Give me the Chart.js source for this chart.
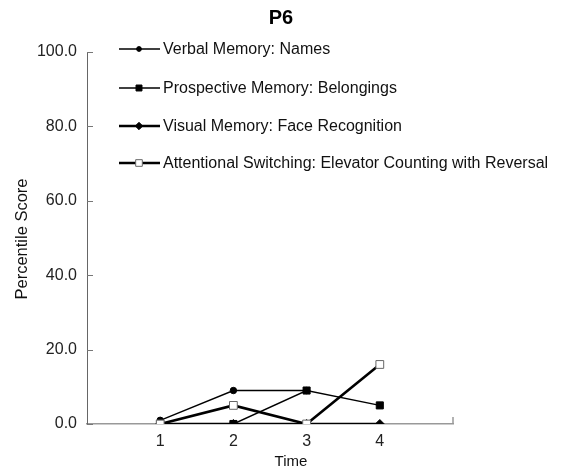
<!DOCTYPE html>
<html><head><meta charset="utf-8">
<script src="https://cdn.jsdelivr.net/npm/chart.js@4"></script>
<style>html,body{margin:0;padding:0;background:#fff}#wrap{width:562px;height:474px}</style>
</head><body><div id="wrap"><canvas id="c" width="562" height="474"></canvas></div>
<script>
const chartTitle = 'P6';
const xTitle = 'Time';
const yTitle = 'Percentile Score';
const times = [1, 2, 3, 4];
const xTickLabels = ['1', '2', '3', '4'];
const yTickValues = [0, 20, 40, 60, 80, 100];
const seriesNames = [
  'Verbal Memory: Names',
  'Prospective Memory: Belongings',
  'Visual Memory: Face Recognition',
  'Attentional Switching: Elevator Counting with Reversal'
];
const verbalNames = [1, 9, 9, null];
const prospectiveBelongings = [0, 0, 9, 5];
const visualFaces = [0, 0, 0, 0];
const attentionalSwitching = [0, 5, 0, 16];

const FONT = '"Liberation Sans", Arial, sans-serif';
const styles = [
  {pointStyle:'circle', radius:3.2, width:1.4, fill:'#000', stroke:'#000'},
  {pointStyle:'rect', radius:5, width:1.4, fill:'#000', stroke:'#000'},
  {pointStyle:'rectRot', radius:4.5, width:2.6, fill:'#000', stroke:'#000'},
  {pointStyle:'rect', radius:5.5, width:2.6, fill:'#fff', stroke:'#666'}
];
const seriesData = [verbalNames, prospectiveBelongings, visualFaces, attentionalSwitching];

const datasets = seriesData.map((arr, i) => ({
  label: seriesNames[i],
  data: times.map((t, k) => ({x: t, y: arr[k]})),
  borderColor: '#000',
  borderWidth: styles[i].width,
  pointStyle: styles[i].pointStyle,
  pointRadius: styles[i].radius,
  pointBackgroundColor: styles[i].fill,
  pointBorderColor: styles[i].stroke,
  pointBorderWidth: 1,
  spanGaps: false,
  order: 4 - i
}));

const decorPlugin = {
  id: 'decor',
  afterDraw(chart) {
    const ctx = chart.ctx;
    const ya = chart.scales.y, xa = chart.scales.x;
    // legend
    const ys = [49, 88, 126, 163];
    chart.data.datasets.forEach((ds, i) => {
      const y = ys[i];
      ctx.save();
      ctx.strokeStyle = '#000';
      ctx.lineWidth = ds.borderWidth;
      ctx.beginPath(); ctx.moveTo(119, y); ctx.lineTo(160, y); ctx.stroke();
      ctx.fillStyle = ds.pointBackgroundColor;
      ctx.strokeStyle = ds.pointBorderColor;
      ctx.lineWidth = 1;
      Chart.helpers.drawPoint(ctx, {pointStyle: ds.pointStyle, radius: ds.pointRadius - 0.8, borderWidth: 1}, 139, y);
      ctx.fillStyle = '#111';
      ctx.font = '16px ' + FONT;
      ctx.textBaseline = 'middle';
      ctx.textAlign = 'left';
      ctx.fillText(ds.label, 163, y + 1);
      ctx.restore();
    });
    ctx.save();
    // y tick marks inside
    ctx.strokeStyle = '#777';
    ctx.lineWidth = 1;
    yTickValues.forEach(v => {
      const py = Math.round(ya.getPixelForValue(v)) + 0.5;
      ctx.beginPath(); ctx.moveTo(xa.left, py); ctx.lineTo(xa.left + 6, py); ctx.stroke();
    });
    // right end tick of x axis
    ctx.strokeStyle = '#999';
    ctx.lineWidth = 1.5;
    ctx.beginPath(); ctx.moveTo(xa.right, ya.bottom); ctx.lineTo(xa.right, ya.bottom - 7); ctx.stroke();
    // titles
    ctx.fillStyle = '#000';
    ctx.textAlign = 'center';
    ctx.textBaseline = 'middle';
    ctx.font = 'bold 20px ' + FONT;
    ctx.fillText(chartTitle, 281, 18);
    ctx.fillStyle = '#111';
    ctx.font = '15px ' + FONT;
    ctx.fillText(xTitle, 291, 462);
    ctx.translate(22, 239);
    ctx.rotate(-Math.PI / 2);
    ctx.font = '16.5px ' + FONT;
    ctx.fillText(yTitle, 0, 0);
    ctx.restore();
  }
};

new Chart(document.getElementById('c'), {
  type: 'line',
  data: {datasets},
  options: {
    responsive: false,
    animation: false,
    layout: {padding: {left: 0, right: 109, top: 52, bottom: 0}},
    plugins: {
      legend: {display: false},
      tooltip: {enabled: false},
      title: {display: false}
    },
    scales: {
      x: {
        type: 'linear', min: 0, max: 5,
        afterBuildTicks(s) { s.ticks = times.map(v => ({value: v})); },
        afterFit(s) { s.height = 50; },
        ticks: {callback: (v) => xTickLabels[times.indexOf(v)], color: '#222', padding: 8,
          font: {family: FONT, size: 16}},
        grid: {display: false, drawTicks: false},
        border: {color: '#999', width: 1.5}
      },
      y: {
        min: 0, max: 100,
        afterBuildTicks(s) { s.ticks = yTickValues.map(v => ({value: v})); },
        afterFit(s) { s.width = 87; },
        ticks: {callback: (v) => v.toFixed(1), color: '#222', padding: 10,
          font: {family: FONT, size: 16}},
        grid: {display: false, drawTicks: false},
        border: {color: '#666', width: 1}
      }
    }
  },
  plugins: [decorPlugin]
});
</script></body></html>
